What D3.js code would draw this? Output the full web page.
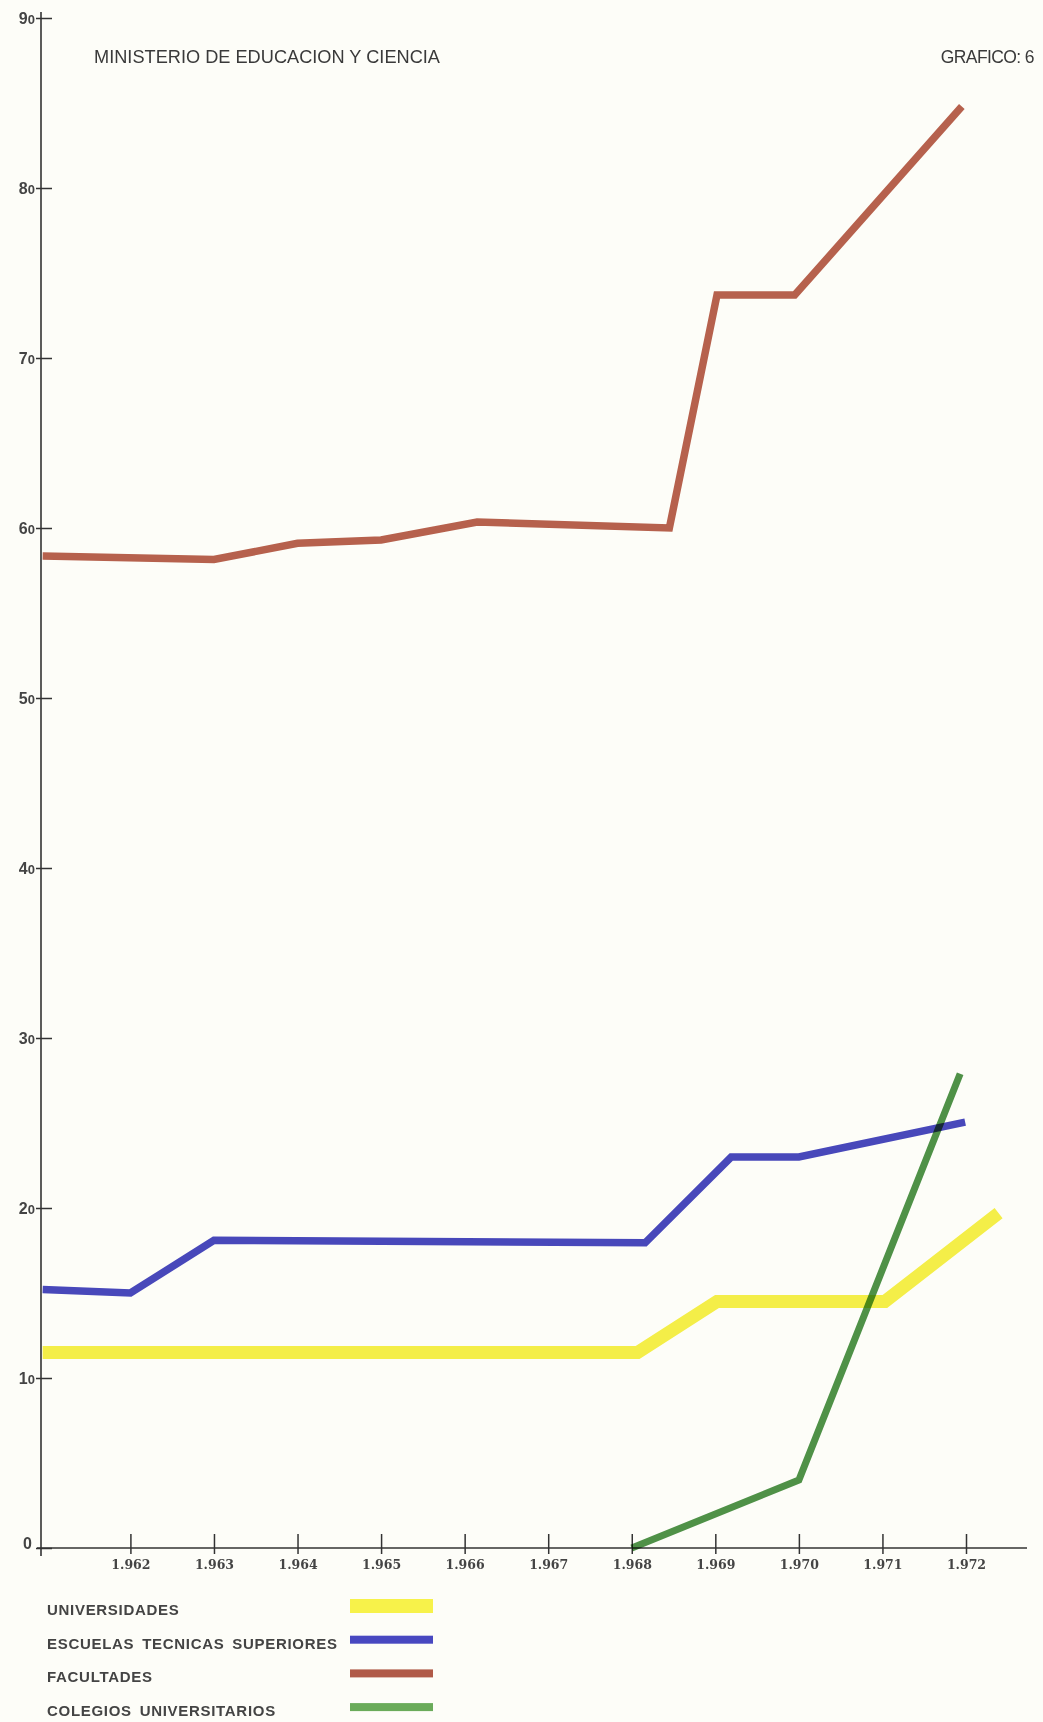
<!DOCTYPE html>
<html>
<head>
<meta charset="utf-8">
<script src="https://cdn.jsdelivr.net/npm/d3@7"></script>
<style>
  body { margin: 0; background: #fdfdf8; }
  svg { display: block; }
</style>
</head>
<body>
<script>
// values (x positions are where the drawn vertices sit)
const yearsUniv = [1960.95, 1968.07, 1969.02, 1971.03, 1972.39];
const univ = [11.5, 11.5, 14.5, 14.5, 19.7];

const yearsEts = [1960.95, 1962, 1963, 1968.16, 1969.19, 1970, 1971.99];
const ets = [15.2, 15.0, 18.1, 17.95, 23.0, 23.0, 25.05];

const yearsFac = [1960.95, 1963, 1964, 1965, 1966.15, 1968.45, 1969.02, 1969.95, 1971.95];
const fac = [58.35, 58.15, 59.1, 59.3, 60.35, 60.0, 73.7, 73.7, 84.8];

const yearsCol = [1968, 1970, 1971.93];
const col = [0, 4.0, 27.9];

const yearTicks = [1962, 1963, 1964, 1965, 1966, 1967, 1968, 1969, 1970, 1971, 1972];
const valueTicks = [0, 10, 20, 30, 40, 50, 60, 70, 80, 90];

const legendLabels = ["UNIVERSIDADES", "ESCUELAS TECNICAS SUPERIORES", "FACULTADES", "COLEGIOS UNIVERSITARIOS"];

const W = 1043, H = 1722;

const svg = d3.select("body").append("svg")
    .attr("width", W)
    .attr("height", H);

svg.append("rect")
    .attr("width", W)
    .attr("height", H)
    .attr("fill", "#fdfdf8");

const x = d3.scaleLinear().domain([1960.93, 1972.73]).range([41, 1027]);
const y = d3.scaleLinear().domain([0, 90]).range([1548, 18]);

// header
svg.append("text")
    .attr("x", 94).attr("y", 63)
    .attr("textLength", 346)
    .attr("lengthAdjust", "spacingAndGlyphs")
    .style("font-family", "'Liberation Sans', Arial, sans-serif")
    .style("font-size", "17.5px")
    .style("fill", "#3a3a3a")
    .text("MINISTERIO DE EDUCACION Y CIENCIA");

svg.append("text")
    .attr("x", 1034).attr("y", 63)
    .attr("text-anchor", "end")
    .style("font-family", "'Liberation Sans', Arial, sans-serif")
    .style("font-size", "17.5px")
    .style("letter-spacing", "-0.6px")
    .style("fill", "#3a3a3a")
    .text("GRAFICO: 6");

// x axis
const xAxis = svg.append("g")
    .attr("transform", `translate(0, ${y(0)})`)
    .call(d3.axisBottom(x)
        .tickValues(yearTicks)
        .tickFormat(d => String(d).slice(0, 1) + "." + String(d).slice(1)));

xAxis.select(".domain").remove();
xAxis.selectAll(".tick line")
    .attr("y1", -14).attr("y2", 6)
    .attr("stroke", "#333").attr("stroke-width", 1.5);
xAxis.selectAll(".tick text")
    .attr("y", 21).attr("dy", 0)
    .style("font-family", "'DejaVu Serif', serif")
    .style("font-size", "12.5px")
    .style("font-weight", "bold")
    .style("fill", "#444");

svg.append("line")
    .attr("x1", 37).attr("x2", 1027)
    .attr("y1", y(0)).attr("y2", y(0))
    .attr("stroke", "#333").attr("stroke-width", 1.6);

// y axis
const yAxis = svg.append("g")
    .attr("transform", `translate(${x.range()[0]}, 0)`)
    .call(d3.axisLeft(y).tickValues(valueTicks).tickFormat(""));

yAxis.select(".domain").remove();
yAxis.selectAll(".tick line")
    .attr("x1", -5).attr("x2", 11)
    .attr("stroke", "#333").attr("stroke-width", 1.5);

const yLab = yAxis.selectAll(".tick text")
    .attr("x", -6)
    .attr("dy", "0.32em")
    .style("font-family", "'Liberation Sans', Arial, sans-serif")
    .style("font-size", "16px")
    .style("font-weight", "bold")
    .style("fill", "#444");

yLab.each(function(d) {
    const t = d3.select(this);
    if (d === 0) {
        t.attr("dy", "0em").attr("x", -9).text("0");
        return;
    }
    t.append("tspan").text(String(d / 10));
    t.append("tspan").style("font-size", "13px").text("0");
});

svg.append("line")
    .attr("x1", x.range()[0]).attr("x2", x.range()[0])
    .attr("y1", 12).attr("y2", 1556)
    .attr("stroke", "#333").attr("stroke-width", 1.6);

// series
const series = [
    { years: yearsUniv, values: univ, color: "#f6f04a", width: 13 },
    { years: yearsEts, values: ets, color: "#4848c0", width: 7.5 },
    { years: yearsFac, values: fac, color: "#b8624f", width: 7.5 },
    { years: yearsCol, values: col, color: "#4f9249", width: 7 }
];

const line = d3.line()
    .x(d => x(d[0]))
    .y(d => y(d[1]));

svg.append("g")
    .selectAll("path")
    .data(series)
    .join("path")
    .attr("d", s => line(s.years.map((yr, i) => [yr, s.values[i]])))
    .attr("fill", "none")
    .attr("stroke", s => s.color)
    .attr("stroke-width", s => s.width)
    .attr("stroke-linejoin", "miter")
    .style("mix-blend-mode", "multiply");

// legend
const legendColors = ["#f7f24a", "#4848c0", "#b05a48", "#6aab5a"];
const legendHeights = [14, 8, 8, 8];
const legend = svg.append("g");

legendLabels.forEach((lbl, i) => {
    const baseY = 1615 + i * 33.7;
    legend.append("text")
        .attr("x", 47).attr("y", baseY)
        .style("font-family", "'Liberation Sans', Arial, sans-serif")
        .style("font-size", "15px")
        .style("font-weight", "bold")
        .style("letter-spacing", "0.7px")
        .style("word-spacing", "3px")
        .style("fill", "#444")
        .text(lbl);
    legend.append("rect")
        .attr("x", 350).attr("y", baseY - 5 - legendHeights[i] + (i === 0 ? 3 : 0))
        .attr("width", 83).attr("height", legendHeights[i])
        .attr("fill", legendColors[i]);
});
</script>
</body>
</html>
